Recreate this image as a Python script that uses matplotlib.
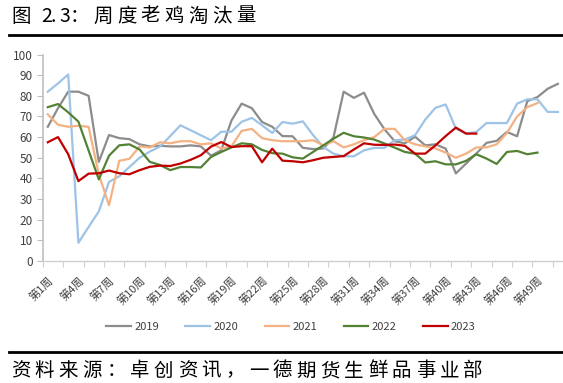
import numpy as np
import matplotlib
matplotlib.use("Agg")
import matplotlib.pyplot as plt
from matplotlib.lines import Line2D

plt.rcParams['font.family'] = ['Noto Sans CJK SC', 'DejaVu Sans']

# weekly culled old-hen volume
y2019 = [65, 74, 82, 82, 80, 48, 61, 59.5, 59, 56.5, 55.5, 55.8, 55.5, 55.5, 56, 55.5, 51, 53.6,
         68, 76.2, 74, 67.3, 65, 60.5, 60.4, 54.8, 54.2, 54.5, 59.8, 82, 79, 81.5, 71.2, 63.8, 58,
         57, 60.2, 56, 56.5, 54.4, 42.4, 47.2, 52, 57.2, 58.2, 62.5, 60.4, 77.4, 79.4, 83.4, 85.8]
y2020 = [82, 86, 90.3, 8.8, 16.5, 24, 38.3, 41, 45.5, 50, 53, 55.4, 60.5, 65.7, 63.3, 60.9, 58.5,
         62.6, 62.6, 67.4, 69.3, 65.7, 62, 67.3, 66.5, 67.6, 61, 55.2, 52, 50.7, 50.7, 53.6, 54.8,
         54.8, 58.5, 58.8, 60.9, 68.5, 74.2, 75.8, 64.1, 61.7, 62.5, 66.8, 66.8, 66.8, 76.2, 78.3,
         78.3, 72.2, 72.2]
y2021 = [71, 66, 65, 65.5, 65, 42, 27, 48.5, 49.5, 55.5, 55, 57.5, 57, 58, 58, 56.5, 57, 54.5,
         55.5, 63, 64, 59.5, 58.5, 58, 58, 58, 58.5, 56, 58, 55, 56.5, 58.5, 60, 64, 64, 58.5,
         56.5, 55.5, 54.5, 52.5, 50, 52, 55, 55, 56.5, 62, 70, 74.5, 76.5]
y2022 = [74.5, 76, 72, 67.5, 53.5, 39.5, 51, 56, 56.5, 54, 48, 46.5, 44, 45.5, 45.5, 45.3, 50.4,
         52.8, 55, 57, 56.5, 53.8, 52.2, 52, 50.2, 49.6, 52.8, 56, 59.2, 62.1, 60.4, 59.8, 58.8,
         56.9, 54.9, 52.8, 52, 47.7, 48.3, 46.8, 46.8, 48.5, 51.7, 49.6, 47, 52.8, 53.3, 51.7, 52.5]
y2023 = [57.5, 60, 51.7, 38.7, 42.3, 42.5, 43.8, 42.5, 42, 44, 45.6, 46.2, 46, 47.2, 49, 51.2,
         55.4, 57.6, 55.2, 55.6, 55.6, 47.8, 54.4, 48.6, 48.3, 47.8, 48.8, 50, 50.4, 50.8, 54, 57,
         56.3, 56.2, 56.4, 55.8, 52, 52, 56, 60.5, 64.6, 61.7, 61.7]

years = ['2019', '2020', '2021', '2022', '2023']
series = [y2019, y2020, y2021, y2022, y2023]
colors = ['#8c8c8c', '#9dc3e6', '#f4b183', '#548235', '#c00000']
n_weeks = 51
week_labels = ['第%d周' % w for w in range(1, n_weeks + 1)]
title = '图 2.3：周度老鸡淘汰量'
source = '资料来源：卓创资讯，一德期货生鲜品事业部'

W, H = 563, 383
fig = plt.figure(figsize=(W / 100, H / 100), dpi=100)
ax = fig.add_axes([42.7 / W, 1 - 261 / H, 1 - 42.7 / W, (261 - 54.5) / H])

for vals, c, lab in zip(series, colors, years):
    x = np.arange(1, len(vals) + 1)
    ax.plot(x, vals, color=c, lw=1.6, label=lab)

ax.set_ylim(0, 100)
ax.set_xlim(0.5, n_weeks + 0.5)
ax.set_yticks(range(0, 101, 10))
ax.tick_params(axis='y', labelsize=8.5, colors='#bfbfbf', labelcolor='#404040',
               length=4, width=0.8, pad=3)

# labels every 3 weeks, tick marks every 2 categories
lab_pos = list(range(1, n_weeks + 1, 3))
ax.set_xticks(lab_pos)
ax.set_xticklabels([week_labels[i - 1] for i in lab_pos], rotation=45, ha='right',
                   va='top', rotation_mode='anchor', fontsize=8, color='#404040')
ax.tick_params(axis='x', length=0, pad=10)
ax.set_xticks(np.arange(0.5, n_weeks + 0.5, 2), minor=True)
ax.tick_params(axis='x', which='minor', length=4, width=0.8, colors='#d0d0d0')

for s in ['top', 'right']:
    ax.spines[s].set_visible(False)
ax.spines['left'].set_color('#bfbfbf')
ax.spines['bottom'].set_color('#d0d0d0')
ax.spines['left'].set_linewidth(1.2)
ax.spines['bottom'].set_linewidth(1.0)

handles = [Line2D([0], [0], color=c, lw=1.6) for c in colors]
fig.legend(handles, years, loc='center', bbox_to_anchor=(291 / W, 1 - 327 / H),
           ncol=5, frameon=False, fontsize=8, handlelength=2.2, columnspacing=2.4,
           handletextpad=0.3, labelcolor='#404040')


# the header and footer are spaced out like the original, one glyph at a time
def spaced_text(s, x0, y, size=14):
    x = x0
    for ch in s:
        if ch != ' ':
            fig.text(x / W, 1 - y / H, ch, fontsize=size, va='center', ha='left')
        x += 23.8 if ord(ch) > 255 else (6 if ch == ' ' else 9.5)


spaced_text(title, 11, 16)
spaced_text(source, 11, 371)
fig.add_artist(Line2D([9 / W, 1], [1 - 35 / H, 1 - 35 / H], color='black', lw=2))
fig.add_artist(Line2D([9 / W, 1], [1 - 352 / H, 1 - 352 / H], color='black', lw=2))

fig.savefig('out.png', dpi=100)
